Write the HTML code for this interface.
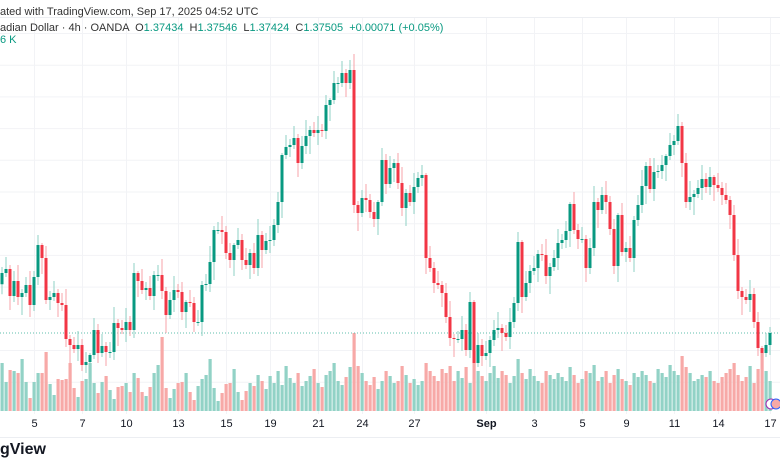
<!DOCTYPE html>
<html><head><meta charset="utf-8">
<style>
html,body{margin:0;padding:0;background:#fff;}
#wrap{position:relative;width:780px;height:470px;overflow:hidden;font-family:"Liberation Sans",sans-serif;}
.t{position:absolute;white-space:nowrap;font-size:11px;color:#131722;}
.g{color:#089981;}
</style></head>
<body>
<div id="wrap">
<svg id="chart" width="780" height="470" style="position:absolute;left:0;top:0"></svg>
<div class="t" style="left:0;top:6px;font-size:11px;color:#333">ated with TradingView.com, Sep 17, 2025 04:52 UTC</div>
<div class="t" style="left:0;top:22px;color:#333">adian Dollar · 4h · OANDA &nbsp;O<span class="g">1.37434</span> &nbsp;H<span class="g">1.37546</span> &nbsp;L<span class="g">1.37424</span> &nbsp;C<span class="g">1.37505</span> &nbsp;<span class="g">+0.00071 (+0.05%)</span></div>
<div class="t g" style="left:0;top:34px">6 K</div>
<div class="t" style="left:0;top:441px;font-size:16px;font-weight:bold;color:#131722">gView</div>
</div>
<script>
const closes=[1.37745,1.37761,1.37653,1.37713,1.37649,1.37665,1.37697,1.37617,1.37729,1.37857,1.37805,1.37637,1.37649,1.37665,1.37625,1.37617,1.37481,1.37457,1.37441,1.37457,1.37377,1.37389,1.37417,1.37517,1.37425,1.37453,1.37429,1.37429,1.37545,1.37525,1.37517,1.37549,1.37517,1.37745,1.37713,1.37677,1.37685,1.37653,1.37737,1.37737,1.37673,1.37577,1.37637,1.37677,1.37669,1.37589,1.37629,1.37625,1.37549,1.37549,1.37697,1.37701,1.37789,1.37917,1.37917,1.37909,1.37825,1.37797,1.37857,1.37877,1.37797,1.37777,1.37825,1.37765,1.37897,1.37837,1.37873,1.37877,1.37937,1.38029,1.38217,1.38249,1.38257,1.38285,1.38185,1.38253,1.38293,1.38317,1.38305,1.38317,1.38313,1.38417,1.38437,1.38505,1.38505,1.38545,1.38505,1.38557,1.38017,1.37985,1.38045,1.38037,1.37989,1.37961,1.38029,1.38197,1.38101,1.38165,1.38185,1.38105,1.38005,1.38065,1.38029,1.38089,1.38125,1.38137,1.37805,1.37765,1.37705,1.37697,1.37665,1.37569,1.37485,1.37481,1.37481,1.37517,1.37437,1.37629,1.37385,1.37457,1.37413,1.37425,1.37477,1.37517,1.37525,1.37505,1.37489,1.37549,1.37625,1.37869,1.37649,1.37705,1.37753,1.37765,1.37821,1.37817,1.37733,1.37769,1.37805,1.37865,1.37877,1.37913,1.38021,1.37917,1.37881,1.37881,1.37765,1.37845,1.38029,1.37997,1.38057,1.38029,1.37921,1.37773,1.37977,1.37829,1.37845,1.37805,1.37957,1.38017,1.38093,1.38173,1.38081,1.38149,1.38153,1.38177,1.38213,1.38257,1.38273,1.38333,1.38185,1.38029,1.38049,1.38061,1.38085,1.38121,1.38089,1.38129,1.38097,1.38085,1.38057,1.38037,1.37977,1.37817,1.37673,1.37649,1.37637,1.37661,1.37549,1.37445,1.37425,1.37457,1.37505];
const firstOpen=1.37700;
const volumes=[48,29,41,40,38,52,29,13,29,38,38,59,27,16,32,31,32,48,23,14,30,32,48,28,18,29,35,21,12,24,25,28,19,38,33,19,15,24,38,46,74,23,13,22,28,29,38,19,11,25,32,36,52,23,10,18,27,28,42,19,11,20,28,25,36,
30,22,35,28,40,26,45,33,28,38,25,30,35,42,28,24,36,40,48,30,26,34,44,78,
45,38,30,26,34,22,30,40,35,28,30,45,36,28,32,26,30,
48,40,35,30,42,38,45,30,40,33,44,28,60,
40,35,30,38,45,33,40,36,28,35,52,
38,32,42,35,30,28,40,36,32,38,34,30,44,36,28,32,40,38,46,30,34,40,28,36,42,32,30,26,38,34,40,36,30,28,42,38,34,46,40,36,55,
44,38,30,32,36,34,40,30,28,34,38,42,48,36,30,34,45,28,42,58,40,30];
const wickUp=[3,6,2,5,8,2,4,7,3,5,1,6];
const wickDn=[5,2,7,3,4,9,2,6,3,4,8,2];
const timeLabels=["5","7","10","13","15","19","21","24","27","Sep","3","5","9","11","14","17"];
const timeLabelIdx=[8,20,31,44,56,67,79,90,103,121,133,145,156,168,179,192];
const lastPrice=1.37505;

const svg=document.getElementById('chart');
const NS='http://www.w3.org/2000/svg';
function xI(i){return 2+i*4;}
function yP(p){return 333-(p-1.37505)/0.00004;}
function yV(v){return 411-v*1.0;}
function mk(tag,attrs){const e=document.createElementNS(NS,tag);for(const k in attrs)e.setAttribute(k,attrs[k]);svg.appendChild(e);return e;}

const sep=mk('line',{x1:0,x2:780,y1:17.5,y2:17.5,stroke:'#eceef2'});


for(let k=0;k<12;k++){
  const y=33.5+k*31.7;
  const l=mk('line',{x1:0,x2:780,y1:y,y2:y,stroke:'#f2f3f6'});
  
  
}
timeLabelIdx.forEach((idx,j)=>{
  const x=xI(idx)+0.5;
  const l=mk('line',{x1:x,x2:x,y1:18,y2:414,stroke:'#f2f3f6'});
  
  
  const t=mk('text',{x:x,y:427,'text-anchor':'middle','font-size':'11','font-family':'Liberation Sans, sans-serif',fill:'#131722','font-weight':timeLabels[j]==='Sep'?'bold':'normal'});
  t.textContent=timeLabels[j];
  
  
});
const bsep=mk('line',{x1:0,x2:780,y1:437.5,y2:437.5,stroke:'#eceef2'});



let prev=firstOpen;
closes.forEach((c,i)=>{
  const o=prev; prev=c;
  const up=c>=o;
  const v=volumes[i]||20;
  const r=mk('rect',{x:xI(i)-1.5,y:yV(v),width:3.2,height:411-yV(v),fill:up?'#92d2c6':'#f7a9a7'});
  
  
});
const lp=mk('line',{x1:0,x2:780,y1:yP(lastPrice),y2:yP(lastPrice),stroke:'#5fbfae','stroke-dasharray':'1,2','stroke-width':1});


prev=firstOpen;
closes.forEach((c,i)=>{
  const o=prev; prev=c;
  const up=c>=o;
  const hi=Math.max(o,c)+wickUp[i%wickUp.length]*0.0001*0.8;
  const lo=Math.min(o,c)-wickDn[i%wickDn.length]*0.0001*0.8;
  const x=xI(i);
  const w=mk('line',{x1:x,x2:x,y1:yP(hi),y2:yP(lo),stroke:up?'#8fd0c4':'#f7a3a8','stroke-width':1});
  
  
  const yt=yP(Math.max(o,c)),yb=yP(Math.min(o,c));
  const b=mk('rect',{x:x-1.5,y:yt,width:3,height:Math.max(1,yb-yt),fill:up?'#089981':'#f23645'});
  
  
});
const e1=mk('circle',{cx:771,cy:404,r:5,fill:'#fff',stroke:'#9c27b0','stroke-width':1});


const e2=mk('circle',{cx:776,cy:404,r:5,fill:'#f7a9a7',stroke:'#2962ff','stroke-width':1});


</script>
</body></html>
